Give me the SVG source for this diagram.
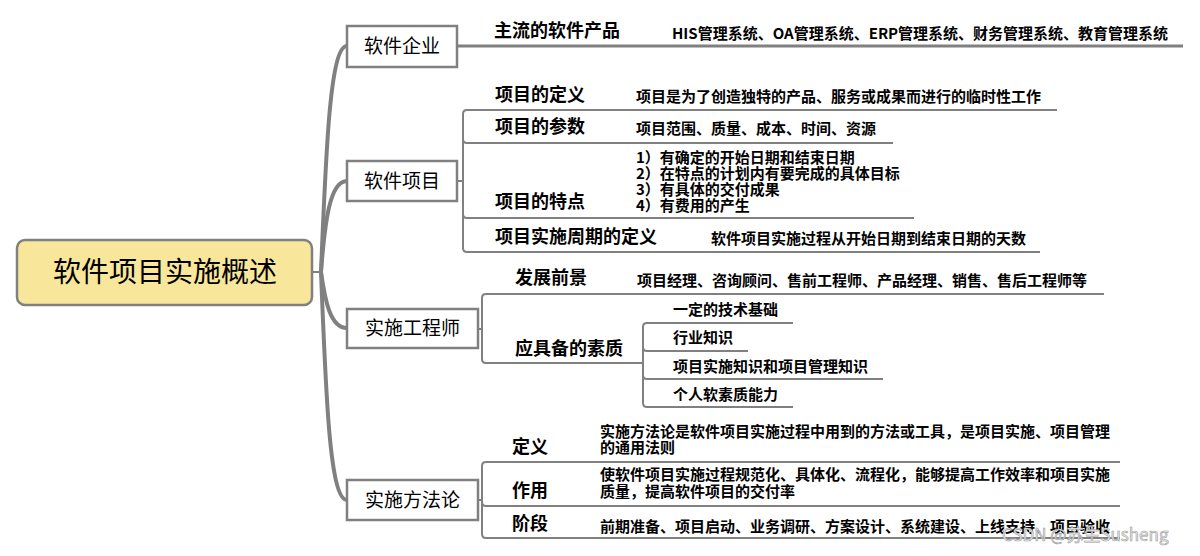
<svg xmlns="http://www.w3.org/2000/svg" width="1200" height="556" viewBox="0 0 1200 556">
<style>
  .box { fill: #ffffff; stroke: #808080; stroke-width: 2.5; }
  .root { fill: #F8E79B; stroke: #808080; stroke-width: 2.5; }
  .trunk { fill: none; stroke: #808080; stroke-width: 4; stroke-linecap: round; }
  .line { fill: none; stroke: #808080; stroke-width: 2; }
  .thick { fill: none; stroke: #808080; stroke-width: 3; }
  text { font-family: "Noto Sans CJK SC", "Noto Sans", sans-serif; fill: #000; }
  .rt { font-size: 28px; text-anchor: middle; }
  .bt { font-size: 19px; text-anchor: middle; }
  .lb { font-size: 18px; font-weight: bold; }
  .ds { font-size: 15px; font-weight: bold; }
  .wm { font-size: 17px; fill: #eeeeee; stroke: #9a9a9a; stroke-width: 0.6; }
</style>

<g id="connectors">
  <path class="line" d="M312,272 H321"/>
  <path class="trunk" d="M321,272 C326,150 330,46 347,46"/>
  <path class="trunk" d="M321,272 C325,220 330,181 347,181"/>
  <path class="trunk" d="M321,272 C325,300 330,328 347,328"/>
  <path class="trunk" d="M321,272 C326,400 330,500 347,500"/>

  <!-- 软件企业 -->
  <path class="thick" d="M457,46 H1183"/>

  <!-- 软件项目 -->
  <path class="line" d="M457,181 H463"/>
  <path class="line" d="M1057,110 H467 Q463,110 463,114 V248 Q463,252 467,252 H1040"/>
  <path class="line" d="M463,139 Q463,143 467,143 H893"/>
  <path class="line" d="M463,214 Q463,218 467,218 H914"/>

  <!-- 实施工程师 -->
  <path class="line" d="M478,329 H482"/>
  <path class="line" d="M1104,294 H486 Q482,294 482,298 V359 Q482,363 486,363 H643"/>
  <path class="line" d="M793,323 H647 Q643,323 643,327 V403 Q643,407 647,407 H793"/>
  <path class="line" d="M643,347 Q643,351 647,351 H748"/>
  <path class="line" d="M643,375 Q643,379 647,379 H883"/>

  <!-- 实施方法论 -->
  <path class="line" d="M478,500 H482"/>
  <path class="line" d="M1120,462 H486 Q482,462 482,466 V534 Q482,538 486,538 H1120"/>
  <path class="line" d="M482,502 Q482,506 486,506 H1120"/>
</g>

<g id="root">
  <rect class="root" x="17" y="240" width="295" height="65" rx="8"/>
  <text class="rt" x="165" y="282">软件项目实施概述</text>
</g>

<g id="n-qiye">
  <rect class="box" x="347" y="26" width="110" height="41"/>
  <text class="bt" x="402" y="53">软件企业</text>
</g>
<g id="n-xiangmu">
  <rect class="box" x="347" y="161" width="110" height="40"/>
  <text class="bt" x="402" y="188">软件项目</text>
</g>
<g id="n-gongchengshi">
  <rect class="box" x="347" y="309" width="131" height="39"/>
  <text class="bt" x="412.5" y="335">实施工程师</text>
</g>
<g id="n-fangfalun">
  <rect class="box" x="347" y="480" width="131" height="40"/>
  <text class="bt" x="412.5" y="507">实施方法论</text>
</g>

<g id="n-chanpin">
  <text class="lb" x="494" y="37">主流的软件产品</text>
  <text class="ds" x="672" y="39">HIS管理系统、OA管理系统、ERP管理系统、财务管理系统、教育管理系统</text>
</g>

<g id="n-dingyi">
  <text class="lb" x="495" y="101">项目的定义</text>
  <text class="ds" x="636" y="102">项目是为了创造独特的产品、服务或成果而进行的临时性工作</text>
</g>
<g id="n-canshu">
  <text class="lb" x="495" y="133">项目的参数</text>
  <text class="ds" x="636" y="134">项目范围、质量、成本、时间、资源</text>
</g>
<g id="n-tedian">
  <text class="lb" x="495" y="208">项目的特点</text>
  <text class="ds" x="636" y="163">1）有确定的开始日期和结束日期</text>
  <text class="ds" x="636" y="179">2）在特点的计划内有要完成的具体目标</text>
  <text class="ds" x="636" y="195">3）有具体的交付成果</text>
  <text class="ds" x="636" y="211">4）有费用的产生</text>
</g>
<g id="n-zhouqi">
  <text class="lb" x="495" y="243">项目实施周期的定义</text>
  <text class="ds" x="711" y="244">软件项目实施过程从开始日期到结束日期的天数</text>
</g>

<g id="n-qianjing">
  <text class="lb" x="515" y="284">发展前景</text>
  <text class="ds" x="637" y="286">项目经理、咨询顾问、售前工程师、产品经理、销售、售后工程师等</text>
</g>
<g id="n-suzhi">
  <text class="lb" x="515" y="355">应具备的素质</text>
  <text class="ds" x="673" y="315">一定的技术基础</text>
  <text class="ds" x="673" y="343">行业知识</text>
  <text class="ds" x="673" y="372">项目实施知识和项目管理知识</text>
  <text class="ds" x="673" y="400">个人软素质能力</text>
</g>

<g id="n-ff-dingyi">
  <text class="lb" x="512" y="453">定义</text>
  <text class="ds" x="600" y="437">实施方法论是软件项目实施过程中用到的方法或工具，是项目实施、项目管理</text>
  <text class="ds" x="600" y="453">的通用法则</text>
</g>
<g id="n-ff-zuoyong">
  <text class="lb" x="512" y="497">作用</text>
  <text class="ds" x="600" y="480">使软件项目实施过程规范化、具体化、流程化，能够提高工作效率和项目实施</text>
  <text class="ds" x="600" y="497">质量，提高软件项目的交付率</text>
</g>
<g id="n-ff-jieduan">
  <text class="lb" x="512" y="530">阶段</text>
  <text class="ds" x="600" y="532">前期准备、项目启动、业务调研、方案设计、系统建设、上线支持、项目验收</text>
</g>

<text class="wm" x="1002" y="541">CSDN @苏生Susheng</text>
</svg>
